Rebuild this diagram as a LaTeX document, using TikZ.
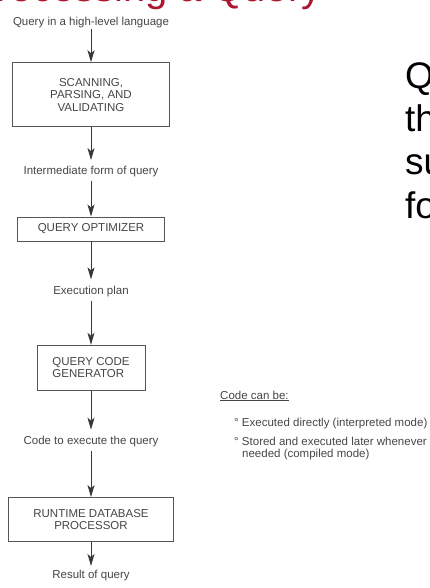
\documentclass[tikz,border=0pt]{standalone}
\usepackage{fontspec}
\setmainfont{Liberation Sans}
\usepackage{xcolor}
\usetikzlibrary{arrows.meta, positioning}
\definecolor{titlered}{RGB}{172,22,46}
\definecolor{textgray}{RGB}{70,70,70}
\definecolor{linegray}{RGB}{55,55,60}
\definecolor{boxgray}{RGB}{85,85,85}
\tikzset{
  lbl/.style={inner sep=0pt, text height=8.5pt, text depth=2.5pt,
              font=\fontsize{11.5}{12.5}\selectfont, text=textgray},
  stage/.style={draw=boxgray, line width=0.9pt, inner sep=0pt,
                align=center, font=\fontsize{11.5}{12.5}\selectfont,
                text=textgray},
  arrow/.style={-{Stealth[length=12pt, width=7pt, inset=3pt]},
                line width=1pt, draw=linegray, fill=linegray},
  note/.style={anchor=base west, inner sep=0pt,
               font=\fontsize{11.5}{12.5}\selectfont, text=textgray},
  slidetxt/.style={anchor=base west, inner sep=0pt,
                   font=\fontsize{37}{44}\selectfont, text=black}
}

\begin{document}
\begin{tikzpicture}[x=1pt, y=-1pt]
  \clip (0,0) rectangle (430,588);
  \fill[white] (0,0) rectangle (430,588);

  % slide title and text, cut by the frame
  \node[anchor=base west, inner sep=0pt, text=titlered,
        font=\fontsize{40}{48}\selectfont] (title) at (-30,1.5)
    {Processing a Query};
  \node[slidetxt] (st1) at (405,89)  {Query optimization:};
  \node[slidetxt] (st2) at (405,132) {the process of choosing a};
  \node[slidetxt] (st3) at (405,175) {suitable execution strategy};
  \node[slidetxt] (st4) at (405,218) {for processing a query.};

  % processing steps
  \node[lbl] (qin) at (91,22.5) {Query in a high-level language};
  \node[stage, minimum width=157pt, minimum height=64pt,
        below=34pt of qin] (scan)
    {SCANNING,\\PARSING, AND\\VALIDATING};
  \node[lbl, below=39pt of scan] (inter) {Intermediate form of query};
  \node[stage, minimum width=147pt, minimum height=24pt,
        below=39pt of inter] (opt)
    {QUERY OPTIMIZER};
  \node[lbl, below=44pt of opt] (plan) {Execution plan};
  \node[stage, minimum width=108pt, minimum height=45pt, align=left,
        below=48pt of plan] (gen)
    {QUERY CODE\\GENERATOR};
  \node[lbl, below=45pt of gen] (code) {Code to execute the query};
  \node[stage, minimum width=165pt, minimum height=44pt,
        below=50pt of code] (rt)
    {RUNTIME DATABASE\\PROCESSOR};
  \node[lbl, below=28pt of rt] (res) {Result of query};

  \draw[arrow, shorten <=1pt] (qin) -- (scan);
  \draw[arrow, shorten >=6pt] (scan) -- (inter);
  \draw[arrow, shorten <=3pt] (inter) -- (opt);
  \draw[arrow, shorten >=6pt] (opt) -- (plan);
  \draw[arrow, shorten <=4pt] (plan) -- (gen);
  \draw[arrow, shorten >=6pt] (gen) -- (code);
  \draw[arrow, shorten <=4pt] (code) -- (rt);
  \draw[arrow, shorten >=4pt] (rt) -- (res);

  % side note
  \node[note] (nhead) at (220,399) {\underline{Code can be:}};
  \node[note] (itema) at (234,426.5) {° Executed directly (interpreted mode)};
  \node[note] (itemb) at (234,445) {° Stored and executed later whenever};
  \node[note] (itemc) at (242,457.5) {needed (compiled mode)};
\end{tikzpicture}
\end{document}
